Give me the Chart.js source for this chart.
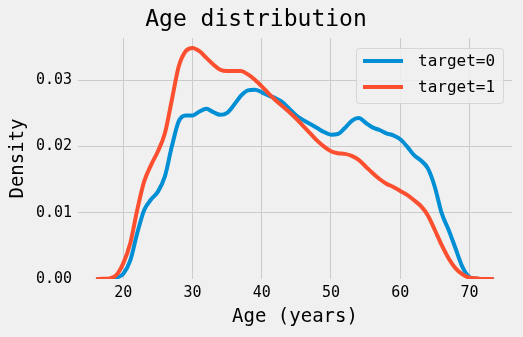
<!DOCTYPE html>
<html>
<head>
<meta charset="utf-8">
<script src="https://cdn.jsdelivr.net/npm/chart.js@4/dist/chart.umd.min.js"></script>
<style>
  html, body { margin: 0; padding: 0; background: #f0f0f0; }
  #wrap { width: 523px; height: 337px; position: relative; }
</style>
</head>
<body>
<div id="wrap"><canvas id="cht-age"></canvas></div>
<script>
var ages = [16.3, 17, 18, 19, 20, 21, 22, 23, 24, 25, 26, 27, 28, 29, 30, 31, 32, 33, 34, 35,
            36, 37, 38, 39, 40, 41, 42, 43, 44, 45, 46, 47, 48, 49, 50, 51, 52, 53, 54, 55,
            56, 57, 58, 59, 60, 61, 62, 63, 64, 65, 66, 67, 68, 69, 70, 71, 72, 73.3];

var target0 = [0, 0, 0, 0.0002, 0.0008, 0.0028, 0.0069, 0.0104, 0.0120, 0.0132, 0.0155, 0.0200, 0.0238, 0.0247, 0.0247, 0.0253, 0.0257, 0.0252, 0.0248, 0.0251,
               0.0263, 0.0277, 0.0285, 0.0286, 0.0282, 0.0277, 0.0273, 0.0267, 0.0257, 0.0247, 0.0240, 0.0234, 0.0228, 0.0222, 0.0218, 0.0219, 0.0228, 0.0239, 0.0243, 0.0236,
               0.0229, 0.0225, 0.0220, 0.0217, 0.0211, 0.0200, 0.0187, 0.0179, 0.0167, 0.0139, 0.0099, 0.0074, 0.0046, 0.0018, 0.0003, 0.00005, 0, 0];

var target1 = [0, 0.00002, 0.0001, 0.0006, 0.0024, 0.0054, 0.0104, 0.0147, 0.0172, 0.0193, 0.0220, 0.0270, 0.0321, 0.0344, 0.0349, 0.0344, 0.0334, 0.0324, 0.0316, 0.0314,
               0.0314, 0.0314, 0.0309, 0.0301, 0.0291, 0.0280, 0.0270, 0.0261, 0.0252, 0.0242, 0.0231, 0.0220, 0.0209, 0.0200, 0.0193, 0.0190, 0.0189, 0.0186, 0.0180, 0.0170,
               0.0160, 0.0151, 0.0144, 0.0139, 0.0133, 0.0127, 0.0119, 0.0110, 0.0096, 0.0074, 0.0051, 0.0031, 0.0016, 0.0007, 0.0002, 0.0001, 0, 0];

var xTicks = [20, 30, 40, 50, 60, 70];
var yTicks = [0, 0.01, 0.02, 0.03];
var seriesLabels = ['target=0', 'target=1'];
var colours = ['#008fd5', '#fc4f30'];

var mono = '"DejaVu Sans Mono", "Liberation Mono", monospace';

function pts(vals) {
    var out = [];
    for (var i = 0; i < ages.length; i++) out.push({ x: ages[i], y: vals[i] });
    return out;
}

// legend drawn in the upper right corner of the plot, like matplotlib's 'best'
var cornerLegend = {
    id: 'cornerLegend',
    afterDatasetsDraw: function (chart) {
        var ctx = chart.ctx, a = chart.chartArea;
        var x0 = a.right - 156, y0 = a.top + 10, w = 147, h = 55;
        ctx.save();
        ctx.beginPath();
        ctx.roundRect(x0 + 0.5, y0 + 0.5, w, h, 3);
        ctx.fillStyle = 'rgba(240,240,240,0.85)';
        ctx.fill();
        ctx.strokeStyle = '#d6d6d6';
        ctx.lineWidth = 1;
        ctx.stroke();
        ctx.font = '16px ' + mono;
        ctx.textBaseline = 'middle';
        chart.data.datasets.forEach(function (ds, i) {
            var yy = y0 + 13 + i * 26;
            ctx.beginPath();
            ctx.moveTo(x0 + 7, yy);
            ctx.lineTo(x0 + 47, yy);
            ctx.strokeStyle = ds.borderColor;
            ctx.lineWidth = 4;
            ctx.stroke();
            ctx.fillStyle = '#000';
            ctx.fillText(ds.label, x0 + 62, yy + 1);
        });
        ctx.restore();
    }
};

var chAge = new Chart(document.getElementById('cht-age'), {
    type: 'line',
    data: {
        datasets: [
            { label: seriesLabels[0], data: pts(target0), borderColor: colours[0], backgroundColor: colours[0], order: 1 },
            { label: seriesLabels[1], data: pts(target1), borderColor: colours[1], backgroundColor: colours[1], order: 0 }
        ]
    },
    options: {
        responsive: true,
        maintainAspectRatio: false,
        animation: false,
        layout: { padding: { left: 0, right: 11, top: 0, bottom: 0 } },
        elements: {
            point: { radius: 0 },
            line: { borderWidth: 4, tension: 0.4, cubicInterpolationMode: 'monotone', borderCapStyle: 'round' }
        },
        plugins: {
            legend: { display: false },
            tooltip: { enabled: false },
            title: {
                display: true,
                text: 'Age distribution',
                color: '#000',
                font: { family: mono, size: 23, weight: 'normal', lineHeight: 1.2 },
                padding: { top: 6, bottom: 4.4 }
            }
        },
        scales: {
            x: {
                type: 'linear',
                min: 13.45,
                max: 76.15,
                afterBuildTicks: function (s) { s.ticks = xTicks.map(function (v) { return { value: v }; }); },
                afterFit: function (s) { s.height = 58; },
                border: { display: false },
                grid: { color: '#cbcbcb', lineWidth: 1, drawTicks: false },
                ticks: { color: '#000', padding: 5, font: { family: mono, size: 15 } },
                title: { display: true, text: 'Age (years)', color: '#000', font: { family: mono, size: 19 }, padding: { top: 0, bottom: 8.6 } }
            },
            y: {
                min: 0,
                max: 0.0364,
                afterBuildTicks: function (s) { s.ticks = yTicks.map(function (v) { return { value: v }; }); },
                afterFit: function (s) { s.width = 78; },
                border: { display: false },
                grid: {
                    drawTicks: false,
                    lineWidth: 1,
                    color: function (c) { return c.tick && c.tick.value === 0 ? 'rgba(0,0,0,0)' : '#cbcbcb'; }
                },
                ticks: {
                    color: '#000', padding: 6, font: { family: mono, size: 15 },
                    callback: function (v) { return v.toFixed(2); }
                },
                title: { display: true, text: 'Density', color: '#000', font: { family: mono, size: 19 }, padding: { top: 7, bottom: 0 } }
            }
        }
    },
    plugins: [cornerLegend]
});
</script>
</body>
</html>
